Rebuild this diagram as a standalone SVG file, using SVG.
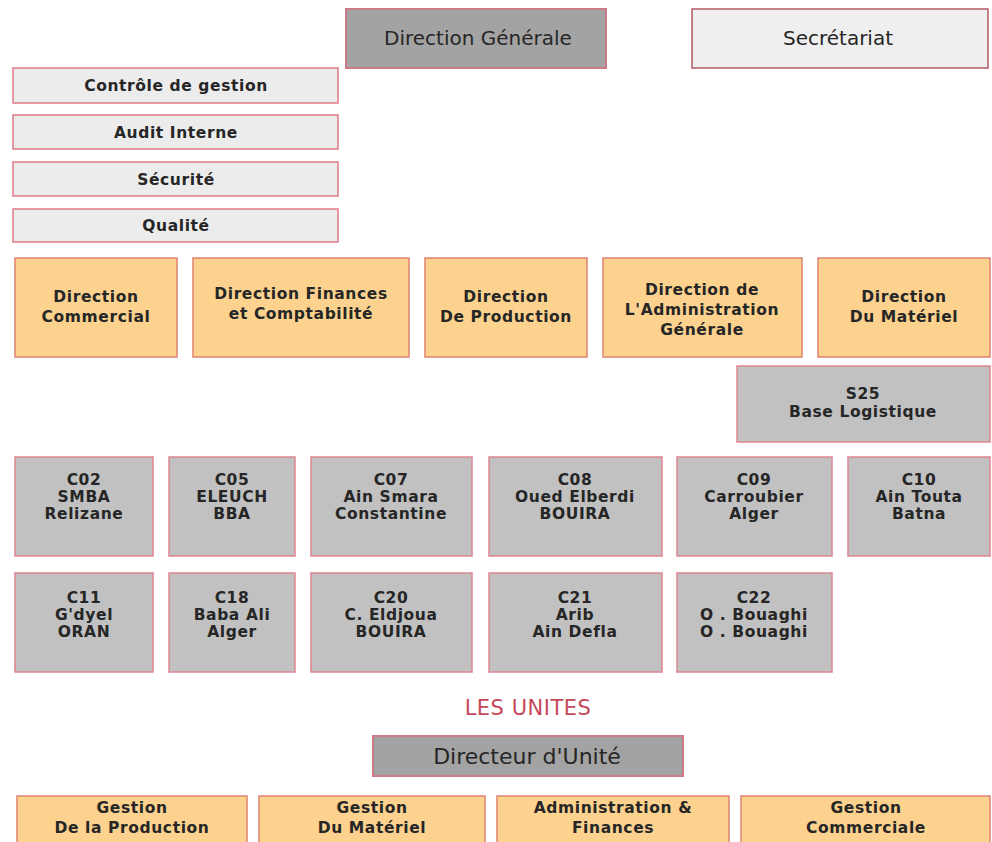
<svg xmlns="http://www.w3.org/2000/svg" width="992" height="842" viewBox="0 0 992 842">
<style>
text{font-family:"DejaVu Sans","Verdana",sans-serif;fill:#262626;text-anchor:middle}
.b{font-weight:bold;font-size:15.5px;letter-spacing:0.6px}
.big{font-size:20px}
.dir{font-size:22px}
.dark{fill:#a3a3a3;stroke:#cc7a86;stroke-width:2}
.light{fill:#ececec;stroke:#e07a88;stroke-width:1.5}
.sec{fill:#efefef;stroke:#b25a66;stroke-width:1.5}
.or{fill:#fcd28e;stroke:#df8370;stroke-width:1.5}
.gr{fill:#c1c1c1;stroke:#e08591;stroke-width:1.5}
.red{fill:#c4485a;font-size:21px;letter-spacing:0.5px}
</style>
<rect width="992" height="842" fill="#ffffff"/>
<g id="connectors"/>
<g id="direction-generale"><rect class="dark" x="346" y="9" width="260" height="59"/><text class="big" x="478" y="45">Direction Générale</text></g>
<g id="secretariat"><rect class="sec" x="692" y="9" width="296" height="59"/><text class="big" x="838" y="45">Secrétariat</text></g>
<g id="controle"><rect class="light" x="13" y="68" width="325" height="35"/><text class="b" x="176" y="91">Contrôle de gestion</text></g>
<g id="audit"><rect class="light" x="13" y="115" width="325" height="34"/><text class="b" x="176" y="138">Audit Interne</text></g>
<g id="securite"><rect class="light" x="13" y="162" width="325" height="34"/><text class="b" x="176" y="185">Sécurité</text></g>
<g id="qualite"><rect class="light" x="13" y="209" width="325" height="33"/><text class="b" x="176" y="231">Qualité</text></g>
<g id="dir-commercial"><rect class="or" x="15" y="258" width="162" height="99"/><text class="b" x="96" y="302">Direction<tspan x="96" dy="20">Commercial</tspan></text></g>
<g id="dir-finances"><rect class="or" x="193" y="258" width="216" height="99"/><text class="b" x="301" y="299">Direction Finances<tspan x="301" dy="20">et Comptabilité</tspan></text></g>
<g id="dir-production"><rect class="or" x="425" y="258" width="162" height="99"/><text class="b" x="506" y="302">Direction<tspan x="506" dy="20">De Production</tspan></text></g>
<g id="dir-administration"><rect class="or" x="603" y="258" width="199" height="99"/><text class="b" x="702" y="295">Direction de<tspan x="702" dy="20">L'Administration</tspan><tspan x="702" dy="20">Générale</tspan></text></g>
<g id="dir-materiel"><rect class="or" x="818" y="258" width="172" height="99"/><text class="b" x="904" y="302">Direction<tspan x="904" dy="20">Du Matériel</tspan></text></g>
<g id="s25"><rect class="gr" x="737" y="366" width="253" height="76"/><text class="b" x="863" y="399">S25<tspan x="863" dy="18">Base Logistique</tspan></text></g>
<g id="c02"><rect class="gr" x="15" y="457" width="138" height="99"/><text class="b" x="84" y="485">C02<tspan x="84" dy="17">SMBA</tspan><tspan x="84" dy="17">Relizane</tspan></text></g>
<g id="c05"><rect class="gr" x="169" y="457" width="126" height="99"/><text class="b" x="232" y="485">C05<tspan x="232" dy="17">ELEUCH</tspan><tspan x="232" dy="17">BBA</tspan></text></g>
<g id="c07"><rect class="gr" x="311" y="457" width="161" height="99"/><text class="b" x="391" y="485">C07<tspan x="391" dy="17">Ain Smara</tspan><tspan x="391" dy="17">Constantine</tspan></text></g>
<g id="c08"><rect class="gr" x="489" y="457" width="173" height="99"/><text class="b" x="575" y="485">C08<tspan x="575" dy="17">Oued Elberdi</tspan><tspan x="575" dy="17">BOUIRA</tspan></text></g>
<g id="c09"><rect class="gr" x="677" y="457" width="155" height="99"/><text class="b" x="754" y="485">C09<tspan x="754" dy="17">Carroubier</tspan><tspan x="754" dy="17">Alger</tspan></text></g>
<g id="c10"><rect class="gr" x="848" y="457" width="142" height="99"/><text class="b" x="919" y="485">C10<tspan x="919" dy="17">Ain Touta</tspan><tspan x="919" dy="17">Batna</tspan></text></g>
<g id="c11"><rect class="gr" x="15" y="573" width="138" height="99"/><text class="b" x="84" y="603">C11<tspan x="84" dy="17">G'dyel</tspan><tspan x="84" dy="17">ORAN</tspan></text></g>
<g id="c18"><rect class="gr" x="169" y="573" width="126" height="99"/><text class="b" x="232" y="603">C18<tspan x="232" dy="17">Baba Ali</tspan><tspan x="232" dy="17">Alger</tspan></text></g>
<g id="c20"><rect class="gr" x="311" y="573" width="161" height="99"/><text class="b" x="391" y="603">C20<tspan x="391" dy="17">C. Eldjoua</tspan><tspan x="391" dy="17">BOUIRA</tspan></text></g>
<g id="c21"><rect class="gr" x="489" y="573" width="173" height="99"/><text class="b" x="575" y="603">C21<tspan x="575" dy="17">Arib</tspan><tspan x="575" dy="17">Ain Defla</tspan></text></g>
<g id="c22"><rect class="gr" x="677" y="573" width="155" height="99"/><text class="b" x="754" y="603">C22<tspan x="754" dy="17">O . Bouaghi</tspan><tspan x="754" dy="17">O . Bouaghi</tspan></text></g>
<g id="les-unites"><text class="red" x="528" y="715">LES UNITES</text></g>
<g id="directeur-unite"><rect class="dark" x="373" y="736" width="310" height="40"/><text class="dir" x="527" y="764">Directeur d'Unité</text></g>
<g id="gestion-production"><rect class="or" x="17" y="796" width="230" height="50"/><text class="b" x="132" y="813">Gestion<tspan x="132" dy="20">De la Production</tspan></text></g>
<g id="gestion-materiel"><rect class="or" x="259" y="796" width="226" height="50"/><text class="b" x="372" y="813">Gestion<tspan x="372" dy="20">Du Matériel</tspan></text></g>
<g id="admin-finances"><rect class="or" x="497" y="796" width="232" height="50"/><text class="b" x="613" y="813">Administration &amp;<tspan x="613" dy="20">Finances</tspan></text></g>
<g id="gestion-commerciale"><rect class="or" x="741" y="796" width="249" height="50"/><text class="b" x="866" y="813">Gestion<tspan x="866" dy="20">Commerciale</tspan></text></g>
</svg>
